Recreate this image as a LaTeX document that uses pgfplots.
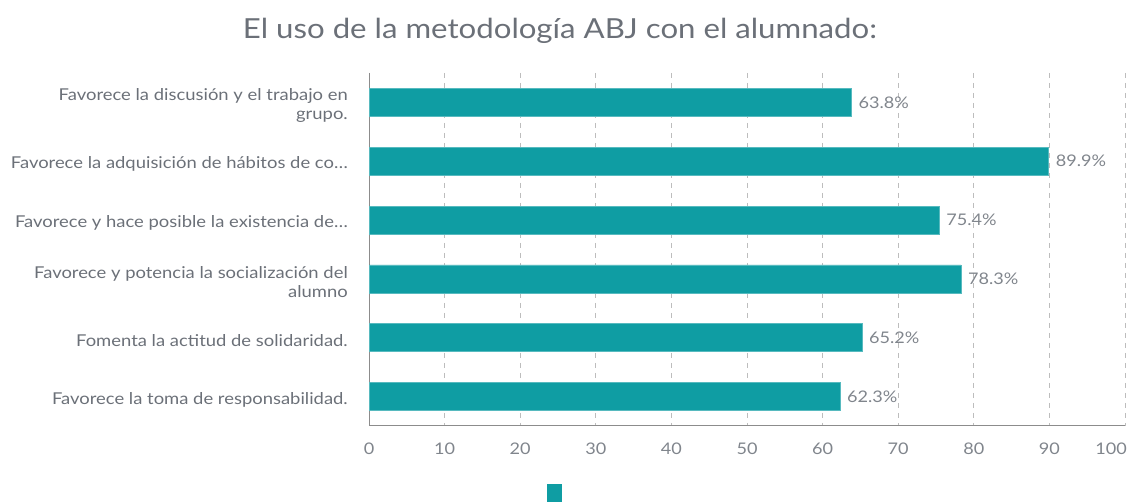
\documentclass[border=0pt]{standalone}
\usepackage{fontspec}
\setmainfont{Lato}[FakeStretch=1.13]
\usepackage{pgfplots}
\pgfplotsset{compat=1.18}
\definecolor{barc}{HTML}{0F9DA3}
\definecolor{txt}{HTML}{6B7078}
\definecolor{ticktxt}{HTML}{80858C}
\definecolor{gridc}{HTML}{BDBDBD}
\definecolor{axl}{HTML}{8C8C8C}
\begin{document}
\begin{tikzpicture}[x=1pt,y=1pt]
\useasboundingbox (0,0) rectangle (1129,502);
\node[text=txt, font=\fontsize{27.6}{33}\selectfont, anchor=center] at (560,471) {El uso de la metodología ABJ con el alumnado:};
\begin{axis}[
  at={(369pt,76pt)}, anchor=south west,
  scale only axis, width=756pt, height=353pt,
  xbar, bar width=28pt,
  xmin=0, xmax=100, ymin=-0.5, ymax=5.5, y dir=reverse,
  axis x line*=bottom, axis y line*=left,
  axis line style={-, draw=axl, line width=1pt},
  xtick={0,10,...,90},
  extra x ticks={100},
  extra x tick labels={100},
  extra x tick style={xticklabel style={xshift=-14pt}},
  ytick={0,1,2,3,4,5},
  yticklabels={{Favorece la discusión y el trabajo en\\grupo.},
               {Favorece la adquisición de hábitos de co…},
               {Favorece y hace posible la existencia de…},
               {Favorece y potencia la socialización del\\alumno},
               {Fomenta la actitud de solidaridad.},
               {Favorece la toma de responsabilidad.}},
  yticklabel style={align=right, text=txt, font=\fontsize{16.3}{18.5}\selectfont, inner sep=0pt, xshift=-21pt, yshift=-3pt},
  xticklabel style={text=ticktxt, font=\fontsize{16}{18}\selectfont, inner sep=0pt, yshift=-17pt},
  /pgf/number format/assume math mode=true,
  major tick length=0pt,
  tick style={draw=none},
  xmajorgrids,
  grid style={draw=gridc, line width=1pt, dash pattern=on 5pt off 5pt},
  point meta=x,
  nodes near coords={\pgfmathprintnumber[fixed,precision=1,fixed zerofill]{\pgfplotspointmeta}\%},
  nodes near coords style={anchor=west, inner sep=0pt, xshift=7pt, text=ticktxt, font=\fontsize{16}{18}\selectfont},
  legend style={at={(0.248,0)}, anchor=north, yshift=-58pt, draw=none, fill=none, inner sep=0pt},
  legend image code/.code={\fill[barc] (0pt,-9pt) rectangle (14pt,9pt);},
]
\addplot[fill=barc, draw=barc!70!white, line width=0.5pt] coordinates {
  (63.8,0) (89.9,1) (75.4,2) (78.3,3) (65.2,4) (62.3,5)
};
\addlegendentry{}
\end{axis}
\end{tikzpicture}
\end{document}
